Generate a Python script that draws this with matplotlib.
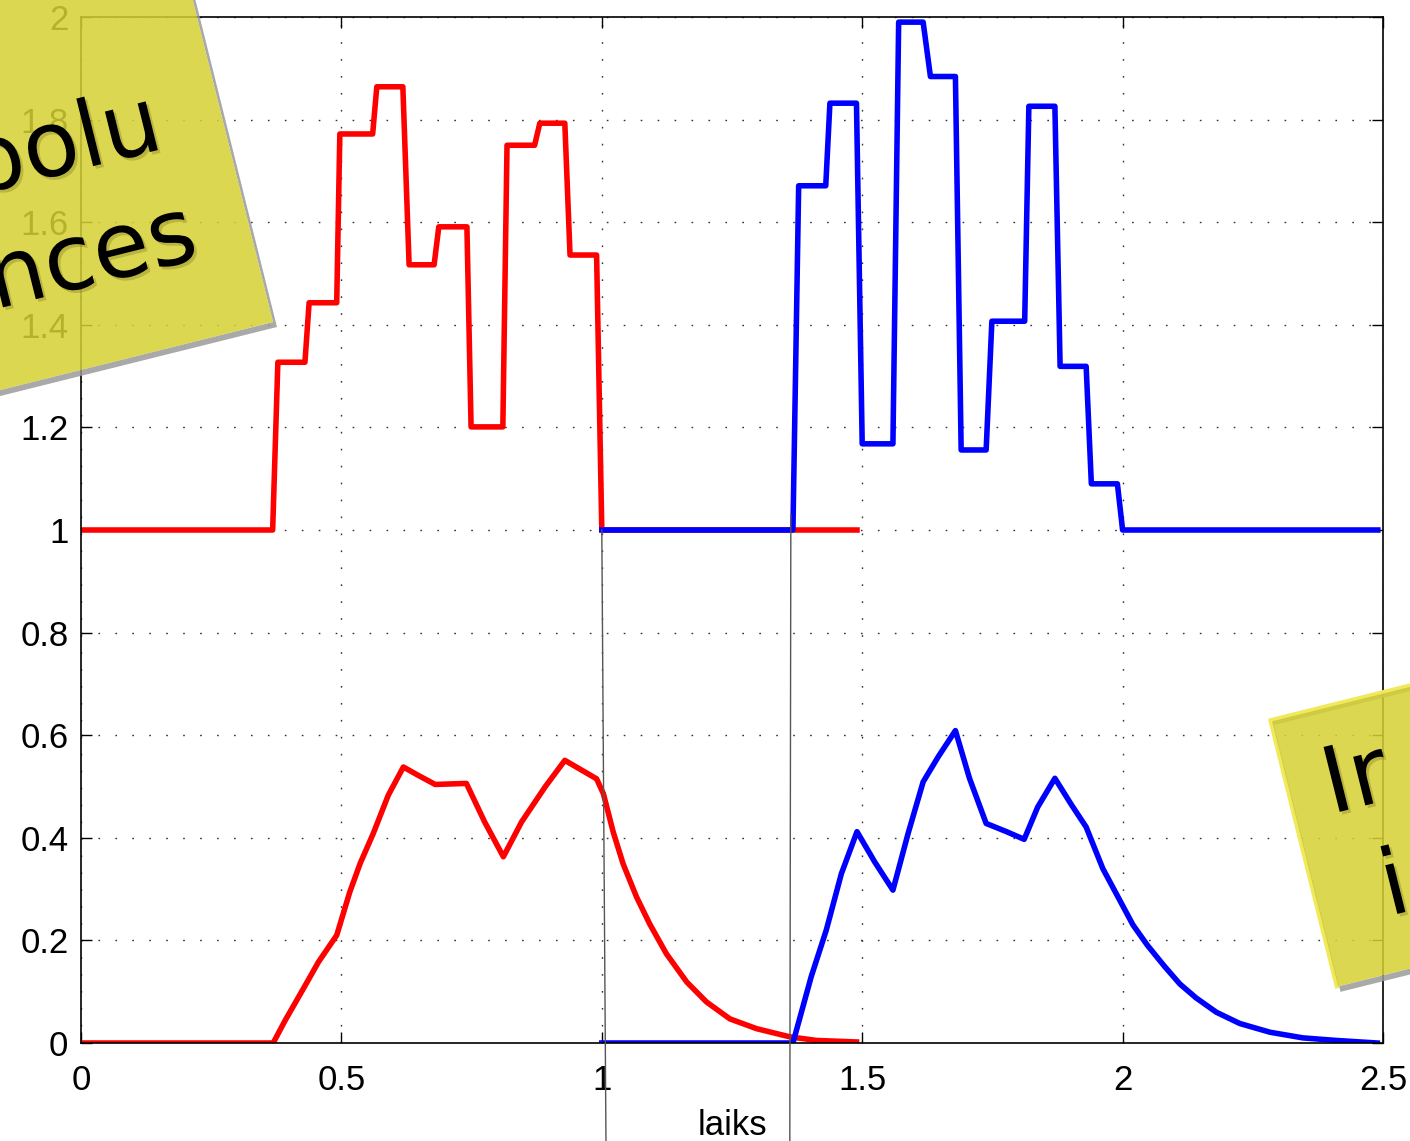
import numpy as np
import matplotlib.pyplot as plt
from matplotlib.patches import Polygon, PathPatch
from matplotlib.path import Path
import matplotlib.patheffects as pe

plt.rcParams['font.family'] = ['Liberation Sans', 'DejaVu Sans']

# piecewise constant input signal, first window (red) and second window (blue)
red_step_t = [0, 0.368, 0.378, 0.430, 0.438, 0.491, 0.497, 0.560, 0.568, 0.618,
              0.630, 0.678, 0.687, 0.741, 0.749, 0.810, 0.818, 0.871, 0.881,
              0.929, 0.939, 0.990, 1.0, 1.49]
red_step_y = [1, 1, 1.327, 1.327, 1.443, 1.443, 1.772, 1.772, 1.864, 1.864,
              1.517, 1.517, 1.591, 1.591, 1.201, 1.201, 1.750, 1.750, 1.793,
              1.793, 1.536, 1.536, 1, 1]

blue_step_t = [1.0, 1.367, 1.378, 1.430, 1.438, 1.489, 1.500, 1.559, 1.570,
               1.617, 1.631, 1.679, 1.690, 1.738, 1.749, 1.812, 1.820, 1.870,
               1.880, 1.930, 1.940, 1.990, 2.0, 2.49]
blue_step_y = [1, 1, 1.671, 1.671, 1.832, 1.832, 1.168, 1.168, 1.990, 1.990,
               1.884, 1.884, 1.156, 1.156, 1.407, 1.407, 1.826, 1.826, 1.319,
               1.319, 1.090, 1.090, 1, 1]

# filter output for each window
red_resp_t = [0, 0.369, 0.392, 0.427, 0.456, 0.491, 0.516, 0.536, 0.561, 0.590,
              0.619, 0.647, 0.680, 0.740, 0.775, 0.811, 0.846, 0.891, 0.929,
              0.990, 1.003, 1.022, 1.041, 1.067, 1.092, 1.124, 1.163, 1.201,
              1.246, 1.297, 1.361, 1.412, 1.489]
red_resp_y = [0, 0, 0.044, 0.106, 0.158, 0.210, 0.294, 0.350, 0.408, 0.483,
              0.538, 0.522, 0.504, 0.506, 0.431, 0.363, 0.431, 0.499, 0.551,
              0.515, 0.486, 0.411, 0.349, 0.284, 0.232, 0.174, 0.119, 0.080,
              0.047, 0.028, 0.012, 0.005, 0.002]

blue_resp_t = [1.0, 1.367, 1.402, 1.431, 1.460, 1.490, 1.524, 1.559, 1.588,
               1.617, 1.646, 1.679, 1.706, 1.738, 1.777, 1.811, 1.837, 1.870,
               1.902, 1.930, 1.962, 1.991, 2.020, 2.048, 2.080, 2.110, 2.141,
               2.180, 2.225, 2.283, 2.346, 2.410, 2.489]
blue_resp_y = [0, 0, 0.129, 0.220, 0.330, 0.412, 0.353, 0.298, 0.408, 0.509,
               0.558, 0.609, 0.516, 0.428, 0.412, 0.397, 0.460, 0.516, 0.464,
               0.421, 0.340, 0.285, 0.230, 0.190, 0.150, 0.115, 0.088, 0.060,
               0.038, 0.021, 0.010, 0.005, 0.0]

# thin guides marking the window edges, running down past the axis
guide_top = [(1.0, 1.0), (1.363, 1.03)]
guide_bottom = [(1.008, -0.19), (1.361, -0.19)]

x_ticks = [0, 0.5, 1, 1.5, 2, 2.5]
y_ticks = [0, 0.2, 0.4, 0.6, 0.8, 1, 1.2, 1.4, 1.6, 1.8, 2]

W, H = 1410, 1141
fig = plt.figure(figsize=(W / 100, H / 100), dpi=100)
ax = fig.add_axes([81 / W, 1 - 1043 / H, (1383 - 81) / W, (1043 - 17) / H])

lw = 4.0
ax.plot(red_step_t, red_step_y, color='#ff0000', lw=lw)
ax.plot(red_resp_t, red_resp_y, color='#ff0000', lw=lw)
ax.plot(blue_step_t, blue_step_y, color='#0000ff', lw=lw)
ax.plot(blue_resp_t, blue_resp_y, color='#0000ff', lw=lw)

for (x0, y0), (x1, y1) in zip(guide_top, guide_bottom):
    ax.plot([x0, x1], [y0, y1], color='#555555', lw=1.0, clip_on=False, zorder=4)

ax.set_xlim(0, 2.5)
ax.set_ylim(0, 2)
ax.set_xticks(x_ticks)
ax.set_yticks(y_ticks)
ax.set_xticklabels(['%g' % v for v in x_ticks])
ax.set_yticklabels(['%g' % v for v in y_ticks])
ax.tick_params(direction='in', length=8, width=1, top=True, right=True,
               labelsize=25, colors='black')
ax.tick_params(axis='x', pad=15)
ax.tick_params(axis='y', pad=9)
for s in ax.spines.values():
    s.set_linewidth(1.2)
ax.grid(True, color='#333333', linestyle=(0, (1.2, 11)), linewidth=1.0)
ax.set_xlabel('laiks', fontsize=25, labelpad=9)


# sticky notes on top of the plot (pixel coordinates, y pointing down)
def rect(tl, w, h, ang):
    a = np.radians(ang)
    u = np.array([np.cos(a), -np.sin(a)])
    v = np.array([np.sin(a), np.cos(a)])
    tl = np.array(tl, float)
    return [tl, tl + w * u, tl + w * u + h * v, tl + h * v]


def to_fig(pts):
    return [(p[0] / W, 1 - p[1] / H) for p in pts]


def add_note(pts, edge=None):
    off = np.array([4, 5])
    shadow = [p + off for p in pts]
    verts = to_fig(shadow) + [(0, 0)] + to_fig(pts[::-1]) + [(0, 0)]
    codes = ([Path.MOVETO] + [Path.LINETO] * 3 + [Path.CLOSEPOLY]) * 2
    fig.add_artist(PathPatch(Path(verts, codes), transform=fig.transFigure,
                             facecolor='#9a9a9a', edgecolor='none', alpha=0.85))
    fig.add_artist(Polygon(to_fig(pts), closed=True, transform=fig.transFigure,
                           facecolor=(214 / 255, 209 / 255, 49 / 255),
                           edgecolor='none', alpha=0.85))
    if edge is not None:
        xs, ys = zip(*to_fig(edge))
        fig.add_artist(plt.Line2D(xs, ys, transform=fig.transFigure,
                                  color='#f0e95a', lw=2.5))


ang = 14
a = np.radians(ang)
u = np.array([np.cos(a), -np.sin(a)])
v = np.array([np.sin(a), np.cos(a)])

br = np.array([273, 322])
w1, h1 = 520, 480
note1 = rect(br - w1 * u - h1 * v, w1, h1, ang)
add_note(note1)

note2 = rect((1270, 720), 420, 275, ang)
add_note(note2, edge=[note2[3], note2[0], note2[1]])

shadow_fx = [pe.withSimplePatchShadow(offset=(2, -2), shadow_rgbFace='#7a7620',
                                      alpha=0.35)]
txt = dict(fontsize=66, family='DejaVu Sans', color='black', rotation=ang,
           rotation_mode='anchor', va='baseline', path_effects=shadow_fx)
fig.text(166 / W, 1 - 148 / H, 'simbolu', ha='right', **txt)
fig.text(201 / W, 1 - 258 / H, 'sekvences', ha='right', **txt)
fig.text(1331 / W, 1 - 814 / H, 'Ir', ha='left', **txt)
fig.text(1389 / W, 1 - 916 / H, 'i', ha='left', **txt)

fig.savefig('out.png', dpi=100)
